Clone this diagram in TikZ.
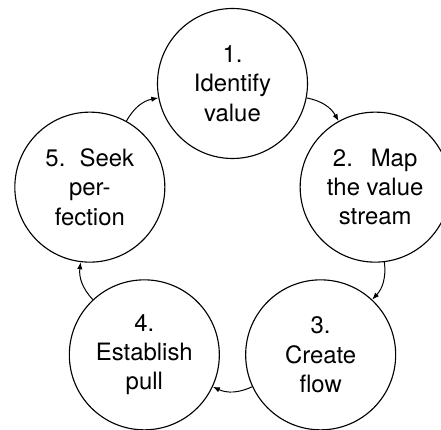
\documentclass[tikz,border=0pt]{standalone}
\usepackage{fontspec}
\setmainfont{TeX Gyre Heros}
\usepackage{tikz}
\usetikzlibrary{arrows.meta}

\begin{document}
\begin{tikzpicture}[
  every node/.style={font=\fontsize{17}{20.8}\selectfont},
  stage/.style={circle, draw, line width=0.8pt, minimum size=3.75cm,
                inner sep=0pt, align=center},
  arr/.style={-{Latex[length=5pt,width=3.8pt]}, line width=0.7pt},
]
\useasboundingbox (-5.8125,-4.9125) rectangle (5.2125,5.8375);

\node[stage] (a) at (90:3.75)   {1.\\Identify\\value};
\node[stage] (b) at (18:3.75)   {2.\hspace{0.75em}Map\\the value\\stream};
\node[stage] (c) at (-54:3.75)  {3.\\Create\\flow};
\node[stage] (d) at (-126:3.75) {4.\\Establish\\pull};
\node[stage] (e) at (162:3.75)  {5.\hspace{0.6em}Seek\\per-\\fection};

\draw[arr] (a) to[bend left=25] (b); \draw[arr] (b) to[bend left=25] (c);
\draw[arr] (c) to[bend left=25] (d); \draw[arr] (d) to[bend left=25] (e);
\draw[arr] (e) to[bend left=25] (a);
\end{tikzpicture}
\end{document}
